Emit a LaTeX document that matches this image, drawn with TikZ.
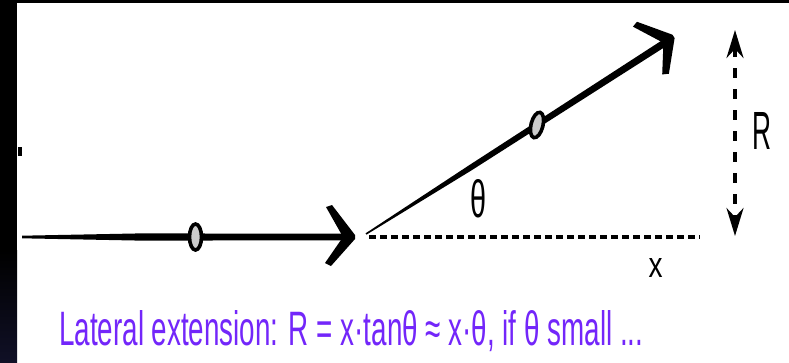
\documentclass[tikz,border=0pt]{standalone}
\usepackage{fontspec}
\setmainfont{Liberation Sans}
\usetikzlibrary{arrows.meta,calc,shapes.geometric}
\definecolor{formula}{RGB}{115,38,250}
\definecolor{navy}{RGB}{16,16,38}
\tikzset{
  bead/.style={ellipse, draw=black, fill=gray!40, line width=3.6pt,
    minimum width=12pt, minimum height=26pt, inner sep=0pt},
  guide/.style={line width=3.6pt, dash pattern=on 7pt off 4pt},
  span/.style={line width=3.2pt, dash pattern=on 10pt off 11pt,
    {Stealth[length=28pt,width=17pt,inset=9pt]}-{Stealth[length=28pt,width=17pt,inset=9pt]}},
  lbl/.style={inner sep=0pt, text=black},
  chev/.pic={\fill[black] (-26,-30) -- (-20,-32) -- (3,-2) -- (3,2) -- (-21,29) -- (-27,26) -- (-9,0) -- cycle;}
}
\begin{document}
\begin{tikzpicture}[x=1pt,y=-1pt]
\useasboundingbox (0,0) rectangle (789,362);
% frame
\fill[white] (0,0) rectangle (789,362);
\fill[black] (0,0) rectangle (17,250);
\shade[top color=black, bottom color=navy] (0,250) rectangle (17,362);
\fill[black] (0,0) rectangle (789,3);
\fill[black] (18,147) rectangle (22,156);

% coordinates
\coordinate (h0) at (22,237);
\coordinate (hm) at (140,237);
\coordinate (h1) at (346,237);
\coordinate (d0) at (366,234);
\coordinate (dm) at (470,168);
\coordinate (d1) at (666,42);
\coordinate (g0) at (369,237);
\coordinate (g1) at (700,237);
\coordinate (rtop) at (735,30);
\coordinate (rbot) at (735,236);

% incoming track (tapered)
\fill[black] ($(h0)!1.3pt!90:(hm)$) -- ($(hm)!3.6pt!-90:(h0)$) -- ($(h1)!3.3pt!-90:(hm)$)
  -- ($(h1)!3.3pt!90:(hm)$) -- ($(hm)!3.6pt!90:(h0)$) -- ($(h0)!1.3pt!-90:(hm)$) -- cycle;
\pic at (352,237) {chev};

% outgoing track (tapered)
\fill[black] ($(d0)!0.8pt!90:(dm)$) -- ($(dm)!2.8pt!-90:(d0)$) -- ($(d1)!3.6pt!-90:(dm)$)
  -- ($(d1)!3.6pt!90:(dm)$) -- ($(dm)!2.8pt!90:(d0)$) -- ($(d0)!0.8pt!-90:(dm)$) -- cycle;
\pic[rotate=32.5] at (671,38) {chev};

% beads
\node[bead] (b1) at (195.5,237) {};
\node[bead, rotate=-14] (b2) at (537,125) {};

% extension of incoming direction
\draw[guide] (g0) -- (g1);

% lateral extension R
\draw[span] (rtop) -- (rbot);

% labels
\node[lbl] (th) at (478.5,199) {\resizebox{16pt}{38pt}{θ}};
\node[lbl] (R) at (762,130.5) {\resizebox{19pt}{37pt}{R}};
\node[lbl] (x) at (655.5,268) {\resizebox{14pt}{19pt}{x}};
\node[lbl, text=formula, anchor=base west] (eq) at (59,345)
  {\resizebox{584pt}{35pt}{Lateral extension: R = x·tanθ ≈ x·θ, if θ small ...}};
\end{tikzpicture}
\end{document}
